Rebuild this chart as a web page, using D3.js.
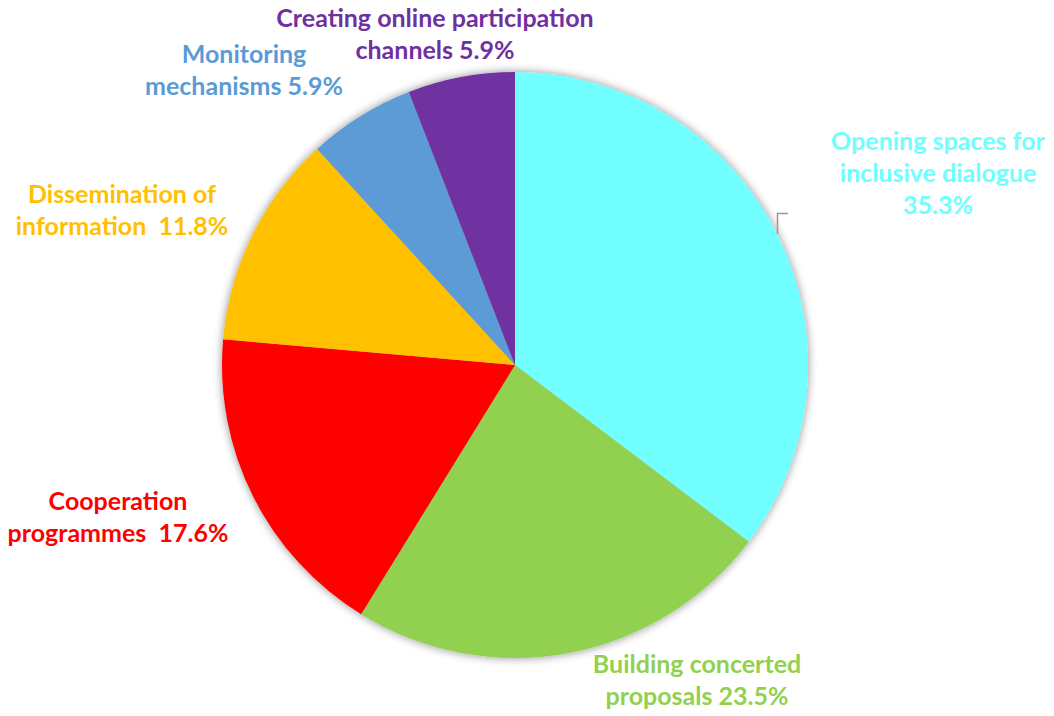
<!DOCTYPE html>
<html><head><meta charset="utf-8">
<script src="https://cdn.jsdelivr.net/npm/d3@7"></script>
<style>body{margin:0;background:#fff}svg{display:block}</style>
</head><body>
<svg id="c" width="1054" height="716"></svg>
<script>
const categories = ["Opening spaces for inclusive dialogue","Building concerted proposals","Cooperation programmes","Dissemination of information","Monitoring mechanisms","Creating online participation channels"];
const values = [35.3, 23.5, 17.6, 11.8, 5.9, 5.9];
const colors = ["#71FFFF","#92D050","#FF0000","#FFC000","#5B9BD5","#7030A0"];
const labelLines = [
  ["Opening spaces for","inclusive dialogue","35.3%"],
  ["Building concerted","proposals 23.5%"],
  ["Cooperation","programmes\u00a0\u00a017.6%"],
  ["Dissemination of","information\u00a0\u00a011.8%"],
  ["Monitoring","mechanisms 5.9%"],
  ["Creating online participation","channels 5.9%"]
];
const labelColors = ["#6FFFFF","#92D050","#FF0000","#FFC000","#5B9BD5","#7030A0"];
const labelPos = [[938,150],[697,673],[118,510],[122,203],[244,63],[435,27]];

const svg = d3.select("#c");
const cx = 515, cy = 365, r = 293;
const defs = svg.append("defs");
const f = defs.append("filter").attr("id","sh").attr("x","-20%").attr("y","-20%").attr("width","140%").attr("height","140%");
f.append("feGaussianBlur").attr("in","SourceAlpha").attr("stdDeviation",5).attr("result","b");
f.append("feOffset").attr("in","b").attr("dx",0).attr("dy",0).attr("result","o");
f.append("feComponentTransfer").attr("in","o").attr("result","t").append("feFuncA").attr("type","linear").attr("slope",0.45);
const m = f.append("feMerge"); m.append("feMergeNode").attr("in","t"); m.append("feMergeNode").attr("in","SourceGraphic");

const pie = d3.pie().sort(null).value(d=>d);
const arc = d3.arc().innerRadius(0).outerRadius(r);
const g = svg.append("g").attr("transform",`translate(${cx},${cy})`).attr("filter","url(#sh)");
g.selectAll("path").data(pie(values)).join("path").attr("d",arc).attr("fill",(d,i)=>colors[i]);

const lg = svg.append("g").attr("font-family","Lato, 'Open Sans', sans-serif").attr("font-weight","bold").attr("font-size",25).attr("text-anchor","middle");
labelLines.forEach((lines,i)=>{
  const t = lg.append("text").attr("fill",labelColors[i]);
  lines.forEach((s,j)=>t.append("tspan").attr("x",labelPos[i][0]).attr("y",labelPos[i][1]+j*32).text(s));
});
svg.append("path").attr("d","M777.5,234V213.5H788").attr("fill","none").attr("stroke","#999").attr("stroke-width",1.5);
</script>
</body></html>
